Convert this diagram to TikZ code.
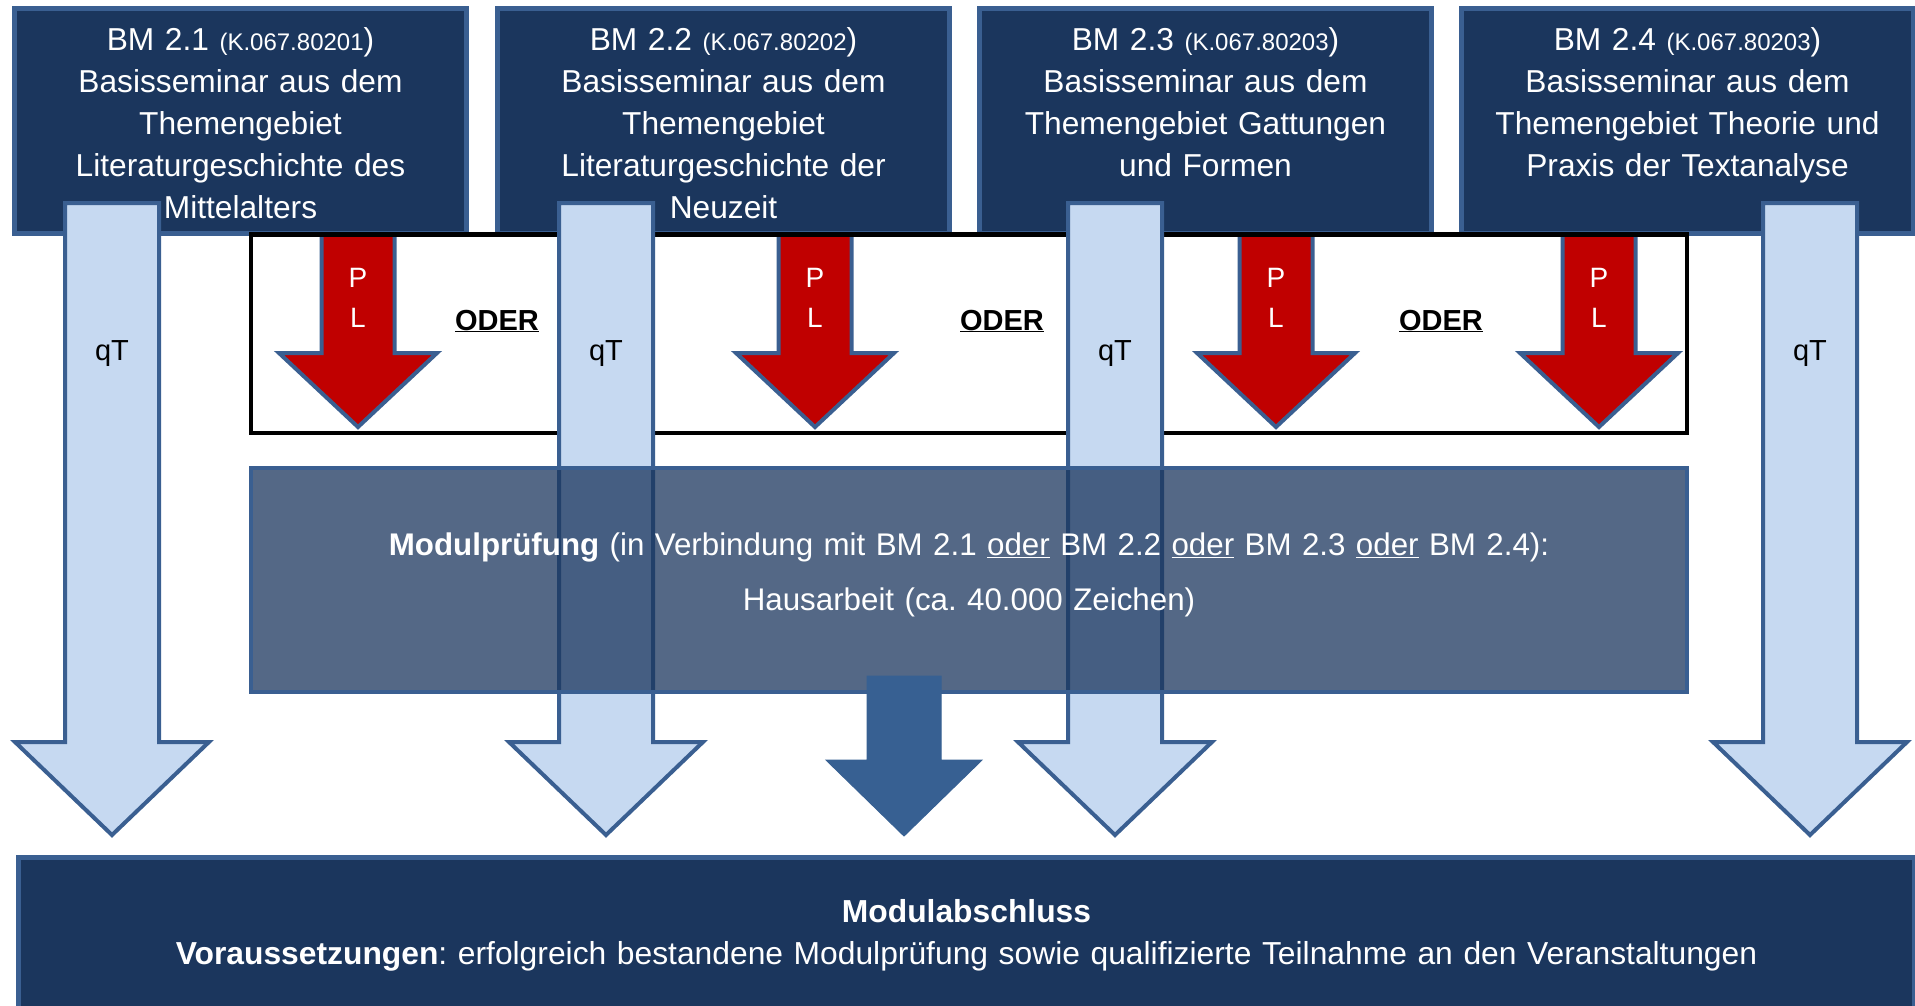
\documentclass[tikz,border=0pt]{standalone}
\usepackage{fontspec}
\setmainfont{Liberation Sans}
\frenchspacing
\definecolor{navy}{RGB}{27,54,93}
\definecolor{rahmenblau}{RGB}{58,95,145}
\definecolor{hellblau}{RGB}{198,217,241}
\definecolor{pfeilrot}{RGB}{192,0,0}
\definecolor{pfeilblau}{RGB}{55,96,146}
\tikzset{
  bmbox/.style={draw=rahmenblau,fill=navy,line width=5pt,outer sep=0pt,
    anchor=north west,text=white,text width=436pt,align=center,
    inner xsep=8pt,inner ysep=0pt,text height=42.5pt,text depth=182.5pt,
    font=\fontsize{31.7}{42}\selectfont},
  qtpfeil/.style={draw=rahmenblau,fill=hellblau,line width=4pt},
  plpfeil/.style={draw=rahmenblau,fill=pfeilrot,line width=4pt},
  mppfeil/.style={draw=pfeilblau,fill=pfeilblau,line width=1pt},
  rahmen/.style={draw=black,line width=4.5pt},
  qtlabel/.style={anchor=base,inner sep=0pt,font=\fontsize{29}{35}\selectfont},
  oderlabel/.style={anchor=base,inner sep=0pt,font=\fontsize{29}{35}\selectfont\bfseries},
  pllabel/.style={anchor=base,inner sep=0pt,text=white,text width=40pt,align=center,
    font=\fontsize{28}{40}\selectfont},
  mpbox/.style={draw=rahmenblau,fill=navy,fill opacity=0.75,text opacity=1,
    line width=4.5pt,outer sep=0pt,anchor=north west,text=white,
    text width=1436pt,align=center,inner sep=0pt,text height=87pt,text depth=137pt,
    font=\fontsize{31.3}{55}\selectfont},
  mabox/.style={draw=rahmenblau,fill=navy,line width=5pt,outer sep=0pt,
    anchor=north west,text=white,text width=1896pt,align=center,inner sep=0pt,
    text height=64.5pt,text depth=200pt,font=\fontsize{31.8}{42}\selectfont}
}
\newcommand{\kz}[1]{{\fontsize{24}{42}\selectfont(#1}}
\begin{document}
\begin{tikzpicture}[x=1pt,y=-1pt]
\useasboundingbox (0,0) rectangle (1915,1006);
\clip (0,0) rectangle (1915,1006);
% PL
\draw[plpfeil,shift={(358,0)}] (-36.5,232)--(36.5,232)--(36.5,353)--(79,353)--(0,427)--(-79,353)--(-36.5,353)--cycle;
\draw[plpfeil,shift={(815,0)}] (-36.5,232)--(36.5,232)--(36.5,353)--(79,353)--(0,427)--(-79,353)--(-36.5,353)--cycle;
\draw[plpfeil,shift={(1276,0)}] (-36.5,232)--(36.5,232)--(36.5,353)--(79,353)--(0,427)--(-79,353)--(-36.5,353)--cycle;
\draw[plpfeil,shift={(1599,0)}] (-36.5,232)--(36.5,232)--(36.5,353)--(79,353)--(0,427)--(-79,353)--(-36.5,353)--cycle;
% Basismodule
\node[bmbox] (bm1) at (14.5,8.5) {BM 2.1 \kz{K.067.80201})\\Basisseminar aus dem\\Themengebiet\\Literaturgeschichte des\\Mittelalters};
\node[bmbox] (bm2) at (497.5,8.5) {BM 2.2 \kz{K.067.80202})\\Basisseminar aus dem\\Themengebiet\\Literaturgeschichte der\\Neuzeit};
\node[bmbox] (bm3) at (979.5,8.5) {BM 2.3 \kz{K.067.80203})\\Basisseminar aus dem\\Themengebiet Gattungen\\und Formen};
\node[bmbox] (bm4) at (1461.5,8.5) {BM 2.4 \kz{K.067.80203})\\Basisseminar aus dem\\Themengebiet Theorie und\\Praxis der Textanalyse};
\draw[rahmen] (251,234.5) rectangle (1687,433);
% qT
\draw[qtpfeil,shift={(112,0)}] (-47,203)--(47,203)--(47,742)--(97,742)--(0,835)--(-97,742)--(-47,742)--cycle;
\draw[qtpfeil,shift={(606,0)}] (-47,203)--(47,203)--(47,742)--(97,742)--(0,835)--(-97,742)--(-47,742)--cycle;
\draw[qtpfeil,shift={(1115,0)}] (-47,203)--(47,203)--(47,742)--(97,742)--(0,835)--(-97,742)--(-47,742)--cycle;
\draw[qtpfeil,shift={(1810,0)}] (-47,203)--(47,203)--(47,742)--(97,742)--(0,835)--(-97,742)--(-47,742)--cycle;
\node[qtlabel] (qt1) at (112,360) {qT};
\node[qtlabel] (qt2) at (606,360) {qT};
\node[qtlabel] (qt3) at (1115,360) {qT};
\node[qtlabel] (qt4) at (1810,360) {qT};
\node[pllabel] (pl1) at (358,287) {P\\L};
\node[pllabel] (pl2) at (815,287) {P\\L};
\node[pllabel] (pl3) at (1276,287) {P\\L};
\node[pllabel] (pl4) at (1599,287) {P\\L};
\node[oderlabel] (oder1) at (497,330) {\underline{ODER}};
\node[oderlabel] (oder2) at (1002,330) {\underline{ODER}};
\node[oderlabel] (oder3) at (1441,330) {\underline{ODER}};
% Modulpruefung
\node[mpbox] (mp) at (251,468) {\textbf{Modulprüfung} (in Verbindung mit BM 2.1 \underline{oder} BM 2.2 \underline{oder} BM 2.3 \underline{oder} BM 2.4):\\Hausarbeit (ca. 40.000 Zeichen)};
\draw[mppfeil,shift={(904,0)}] (-37,676)--(37,676)--(37,760)--(78,760)--(0,836)--(-78,760)--(-37,760)--cycle;
% Modulabschluss
\node[mabox] (ma) at (18.5,857.5) {\textbf{Modulabschluss}\\\textbf{Voraussetzungen}: erfolgreich bestandene Modulprüfung sowie qualifizierte Teilnahme an den Veranstaltungen};
\end{tikzpicture}
\end{document}
